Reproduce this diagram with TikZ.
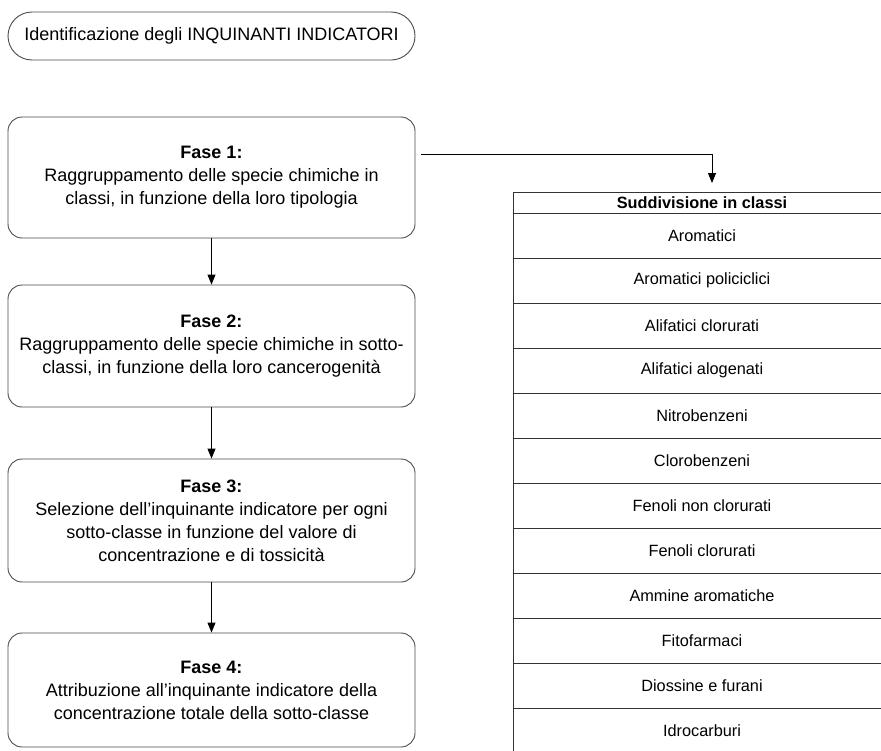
\documentclass[tikz,border=0pt]{standalone}
\usepackage{fontspec}
\setmainfont{Liberation Sans}
\usetikzlibrary{arrows.meta,calc}
\begin{document}
\begin{tikzpicture}[x=1pt,y=-1pt,
  fasebox/.style={draw=black!70, line width=0.9pt, rounded corners=14pt, minimum width=407pt, inner sep=2pt, align=center, font=\fontsize{18}{23}\selectfont},
  titlebox/.style={draw=black!70, line width=0.9pt, rounded corners=24pt, minimum width=407pt, minimum height=48pt, inner sep=2pt, font=\fontsize{18}{23}\selectfont},
  tabrow/.style={draw=black!80, line width=0.9pt, minimum width=378pt, minimum height=45pt, inner sep=0pt, font=\fontsize{16.3}{20}\selectfont},
  tabhead/.style={tabrow, minimum height=21pt},
  arr/.style={draw=black, line width=0.9pt, -{Triangle[width=8pt,length=10pt]}}
]
\useasboundingbox (0,0) rectangle (881,750);
\fill[white] (0,0) rectangle (881,750);

\node[titlebox] (title) at (211.5,36) {Identificazione degli INQUINANTI INDICATORI};

\node[fasebox, minimum height=121pt] (f1) at (211.5,177.5) {\textbf{Fase 1:}\\Raggruppamento delle specie chimiche in\\classi, in funzione della loro tipologia};
\node[fasebox, minimum height=122pt] (f2) at (211.5,346) {\textbf{Fase 2:}\\Raggruppamento delle specie chimiche in sotto-\\classi, in funzione della loro cancerogenità};
\node[fasebox, minimum height=123pt] (f3) at (211.5,520.5) {\textbf{Fase 3:}\\Selezione dell’inquinante indicatore per ogni\\sotto-classe in funzione del valore di\\concentrazione e di tossicità};
\node[fasebox, minimum height=114pt] (f4) at (211.5,690) {\textbf{Fase 4:}\\Attribuzione all’inquinante indicatore della\\concentrazione totale della sotto-classe};

\node[tabhead] (th) at (702,202.5) {\textbf{Suddivisione in classi}};
\node[tabrow] (r1) at (702,235.5) {Aromatici};
\node[tabrow] (r2) at (702,280.5) {Aromatici policiclici};
\node[tabrow] (r3) at (702,325.5) {Alifatici clorurati};
\node[tabrow] (r4) at (702,370.5) {Alifatici alogenati};
\node[tabrow] (r5) at (702,415.5) {Nitrobenzeni};
\node[tabrow] (r6) at (702,460.5) {Clorobenzeni};
\node[tabrow] (r7) at (702,505.5) {Fenoli non clorurati};
\node[tabrow] (r8) at (702,550.5) {Fenoli clorurati};
\node[tabrow] (r9) at (702,595.5) {Ammine aromatiche};
\node[tabrow] (r10) at (702,640.5) {Fitofarmaci};
\node[tabrow] (r11) at (702,685.5) {Diossine e furani};
\node[tabrow] (r12) at (702,730.5) {Idrocarburi};

\coordinate (tabin) at (712,192);
\draw[arr, shorten <=6pt, shorten >=9pt] ([yshift=23.5pt]f1.east) -| (tabin);

\draw[arr] (f1.south) -- (f2.north);
\draw[arr] (f2.south) -- (f3.north);
\draw[arr] (f3.south) -- (f4.north);
\end{tikzpicture}
\end{document}
